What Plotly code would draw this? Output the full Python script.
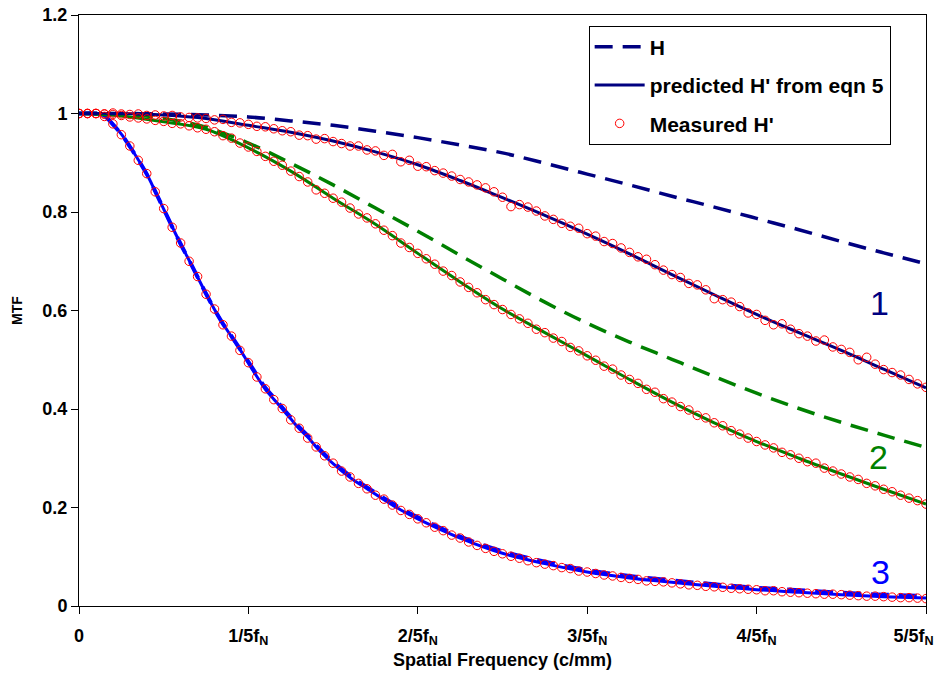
import plotly.graph_objects as go

# ---------------- data ----------------
# smooth model curves (sampled every 0.05 of f_N)
freq = [0.00, 0.05, 0.10, 0.15, 0.20, 0.25, 0.30, 0.35, 0.40, 0.45, 0.50,
        0.55, 0.60, 0.65, 0.70, 0.75, 0.80, 0.85, 0.90, 0.95, 1.00]

h1 = [1.000, 1.000, 0.999, 0.997, 0.993, 0.985, 0.976, 0.964, 0.951, 0.936, 0.920,
      0.899, 0.877, 0.855, 0.832, 0.810, 0.787, 0.764, 0.740, 0.717, 0.695]
h1_pred = [1.000, 1.000, 0.997, 0.990, 0.976, 0.962, 0.944, 0.922, 0.896, 0.864, 0.829,
           0.793, 0.755, 0.715, 0.673, 0.632, 0.592, 0.555, 0.519, 0.481, 0.443]

h2 = [1.000, 0.999, 0.990, 0.972, 0.940, 0.899, 0.855, 0.808, 0.761, 0.712, 0.664,
      0.617, 0.574, 0.536, 0.501, 0.466, 0.432, 0.401, 0.373, 0.347, 0.322]
h2_pred = [1.000, 0.995, 0.983, 0.968, 0.930, 0.883, 0.828, 0.775, 0.716, 0.658, 0.603,
           0.555, 0.508, 0.460, 0.414, 0.372, 0.334, 0.300, 0.268, 0.237, 0.207]

# curve 3 drops fast, so it is sampled more finely
freq3 = [0.00, 0.02, 0.03, 0.04, 0.05, 0.06, 0.07, 0.08, 0.09, 0.10, 0.11, 0.12,
         0.13, 0.14, 0.15, 0.16, 0.17, 0.18, 0.19, 0.20, 0.21, 0.22, 0.23, 0.24,
         0.25, 0.26, 0.27, 0.28, 0.29, 0.30, 0.32, 0.34, 0.36, 0.38, 0.40, 0.45,
         0.50, 0.55, 0.60, 0.65, 0.70, 0.75, 0.80, 0.85, 0.90, 0.95, 1.00]
h3 = [1.000, 1.000, 0.995, 0.978, 0.958, 0.933, 0.906, 0.877, 0.842, 0.806, 0.770, 0.735,
      0.702, 0.668, 0.634, 0.602, 0.573, 0.548, 0.522, 0.496, 0.469, 0.443, 0.423, 0.403,
      0.383, 0.363, 0.346, 0.326, 0.308, 0.292, 0.264, 0.241, 0.219, 0.198, 0.180, 0.141,
      0.111, 0.090, 0.073, 0.061, 0.052, 0.044, 0.037, 0.032, 0.027, 0.023, 0.020]
h3_pred = [1.000, 1.000, 0.995, 0.978, 0.958, 0.933, 0.906, 0.877, 0.842, 0.806, 0.770, 0.735,
           0.702, 0.668, 0.634, 0.602, 0.573, 0.547, 0.521, 0.493, 0.466, 0.440, 0.420, 0.400,
           0.380, 0.360, 0.343, 0.323, 0.305, 0.289, 0.261, 0.238, 0.216, 0.195, 0.177, 0.138,
           0.107, 0.086, 0.069, 0.057, 0.048, 0.040, 0.033, 0.028, 0.023, 0.019, 0.016]

# measured points (every 0.01 of f_N)
freq_meas = [0.00, 0.01, 0.02, 0.03, 0.04, 0.05, 0.06, 0.07, 0.08, 0.09,
             0.10, 0.11, 0.12, 0.13, 0.14, 0.15, 0.16, 0.17, 0.18, 0.19,
             0.20, 0.21, 0.22, 0.23, 0.24, 0.25, 0.26, 0.27, 0.28, 0.29,
             0.30, 0.31, 0.32, 0.33, 0.34, 0.35, 0.36, 0.37, 0.38, 0.39,
             0.40, 0.41, 0.42, 0.43, 0.44, 0.45, 0.46, 0.47, 0.48, 0.49,
             0.50, 0.51, 0.52, 0.53, 0.54, 0.55, 0.56, 0.57, 0.58, 0.59,
             0.60, 0.61, 0.62, 0.63, 0.64, 0.65, 0.66, 0.67, 0.68, 0.69,
             0.70, 0.71, 0.72, 0.73, 0.74, 0.75, 0.76, 0.77, 0.78, 0.79,
             0.80, 0.81, 0.82, 0.83, 0.84, 0.85, 0.86, 0.87, 0.88, 0.89,
             0.90, 0.91, 0.92, 0.93, 0.94, 0.95, 0.96, 0.97, 0.98, 0.99, 1.00]

meas1 = [1.000, 1.000, 1.000, 0.999, 1.001, 0.999, 0.998, 0.999, 0.996, 0.997,
         0.995, 0.996, 0.993, 0.992, 0.991, 0.990, 0.987, 0.988, 0.982, 0.981,
         0.978, 0.974, 0.973, 0.969, 0.965, 0.963, 0.956, 0.955, 0.948, 0.949,
         0.943, 0.939, 0.934, 0.934, 0.926, 0.924, 0.915, 0.917, 0.902, 0.905,
         0.893, 0.892, 0.884, 0.879, 0.873, 0.866, 0.861, 0.855, 0.849, 0.841,
         0.830, 0.811, 0.815, 0.810, 0.802, 0.792, 0.785, 0.777, 0.771, 0.767,
         0.756, 0.751, 0.740, 0.736, 0.727, 0.718, 0.709, 0.704, 0.693, 0.682,
         0.673, 0.667, 0.655, 0.652, 0.642, 0.624, 0.622, 0.617, 0.608, 0.595,
         0.592, 0.580, 0.571, 0.573, 0.562, 0.553, 0.548, 0.538, 0.540, 0.526,
         0.521, 0.515, 0.500, 0.505, 0.491, 0.480, 0.474, 0.469, 0.460, 0.451, 0.444]

meas2 = [1.000, 1.000, 1.000, 0.999, 0.998, 0.996, 0.993, 0.991, 0.989, 0.986,
         0.984, 0.980, 0.979, 0.975, 0.971, 0.968, 0.963, 0.955, 0.950, 0.940,
         0.932, 0.923, 0.913, 0.903, 0.895, 0.883, 0.872, 0.861, 0.845, 0.838,
         0.828, 0.820, 0.808, 0.796, 0.788, 0.776, 0.763, 0.752, 0.737, 0.728,
         0.716, 0.705, 0.694, 0.680, 0.671, 0.658, 0.647, 0.636, 0.622, 0.612,
         0.602, 0.592, 0.583, 0.574, 0.562, 0.555, 0.544, 0.537, 0.525, 0.518,
         0.508, 0.499, 0.487, 0.481, 0.469, 0.460, 0.452, 0.440, 0.434, 0.421,
         0.414, 0.405, 0.398, 0.387, 0.382, 0.372, 0.366, 0.356, 0.349, 0.341,
         0.334, 0.327, 0.321, 0.312, 0.307, 0.300, 0.293, 0.290, 0.280, 0.274,
         0.268, 0.262, 0.257, 0.249, 0.244, 0.237, 0.232, 0.225, 0.219, 0.214, 0.207]

meas3 = [1.000, 1.000, 1.000, 0.994, 0.979, 0.957, 0.934, 0.905, 0.878, 0.841,
         0.807, 0.769, 0.737, 0.700, 0.669, 0.633, 0.603, 0.571, 0.548, 0.519,
         0.494, 0.465, 0.441, 0.419, 0.401, 0.378, 0.361, 0.341, 0.323, 0.305,
         0.290, 0.274, 0.262, 0.249, 0.238, 0.225, 0.217, 0.205, 0.194, 0.186,
         0.177, 0.169, 0.160, 0.153, 0.144, 0.138, 0.130, 0.123, 0.117, 0.111,
         0.106, 0.101, 0.097, 0.092, 0.088, 0.085, 0.082, 0.078, 0.076, 0.071,
         0.069, 0.066, 0.063, 0.061, 0.058, 0.056, 0.054, 0.051, 0.050, 0.049,
         0.047, 0.045, 0.043, 0.042, 0.040, 0.039, 0.038, 0.036, 0.035, 0.034,
         0.033, 0.031, 0.031, 0.029, 0.028, 0.027, 0.026, 0.025, 0.024, 0.024,
         0.023, 0.022, 0.021, 0.020, 0.020, 0.019, 0.018, 0.017, 0.017, 0.016, 0.015]

x_tickvals = [0, 0.2, 0.4, 0.6, 0.8, 1.0]
x_ticktext = ["0", "1/5f<sub>N</sub>", "2/5f<sub>N</sub>", "3/5f<sub>N</sub>",
              "4/5f<sub>N</sub>", "5/5f<sub>N</sub>&nbsp;&nbsp;&nbsp;&nbsp;&nbsp;"]
y_tickvals = [0, 0.2, 0.4, 0.6, 0.8, 1.0, 1.2]
y_ticktext = ["0", "0.2", "0.4", "0.6", "0.8", "1", "1.2"]

curve_labels = ["1", "2", "3"]
curve_label_pos = [(0.945, 0.615), (0.944, 0.303), (0.946, 0.069)]

NAVY, GREEN, BLUE, RED = "#000080", "#008000", "#0000FF", "#FF0000"
FONT = "Arial, Liberation Sans, sans-serif"
DASH = "18px,10px"

fig = go.Figure()

# group 3 (blue)
fig.add_trace(go.Scatter(x=freq3, y=h3, mode="lines", line=dict(color=BLUE, width=4, dash=DASH),
                         showlegend=False, line_shape="spline"))
fig.add_trace(go.Scatter(x=freq3, y=h3_pred, mode="lines", line=dict(color=BLUE, width=3),
                         showlegend=False, line_shape="spline"))
# group 2 (green)
fig.add_trace(go.Scatter(x=freq, y=h2, mode="lines", line=dict(color=GREEN, width=3.5, dash=DASH),
                         showlegend=False, line_shape="spline"))
fig.add_trace(go.Scatter(x=freq, y=h2_pred, mode="lines", line=dict(color=GREEN, width=3),
                         showlegend=False, line_shape="spline"))
# group 1 (navy) - used for legend
fig.add_trace(go.Scatter(x=freq, y=h1, mode="lines", name="<b>H</b>", legendgroup="a",
                         line=dict(color=NAVY, width=3.5, dash=DASH), line_shape="spline"))
fig.add_trace(go.Scatter(x=freq, y=h1_pred, mode="lines", name="<b>predicted H' from eqn 5</b>",
                         legendgroup="b", line=dict(color=NAVY, width=3), line_shape="spline"))

marker = dict(symbol="circle-open", size=8.5, color=RED, line=dict(width=1, color=RED))
fig.add_trace(go.Scatter(x=freq_meas, y=meas1, mode="markers", name="<b>Measured H'</b>",
                         legendgroup="c", marker=marker))
fig.add_trace(go.Scatter(x=freq_meas, y=meas2, mode="markers", showlegend=False, marker=marker))
fig.add_trace(go.Scatter(x=freq_meas, y=meas3, mode="markers", showlegend=False, marker=marker))

for txt, (lx, ly), col in zip(curve_labels, curve_label_pos, [NAVY, GREEN, BLUE]):
    fig.add_annotation(x=lx, y=ly, text=txt, showarrow=False,
                       font=dict(family=FONT, size=34, color=col))

fig.update_layout(
    width=940, height=674,
    margin=dict(l=79, r=14, t=15, b=68),
    paper_bgcolor="white", plot_bgcolor="white",
    font=dict(family=FONT, color="black"),
    legend=dict(x=0.78, y=0.982, xanchor="center", yanchor="top",
                bordercolor="black", borderwidth=1, bgcolor="white",
                font=dict(family=FONT, size=21, color="black"),
                traceorder="grouped", tracegroupgap=8, itemwidth=50),
    xaxis=dict(range=[0, 1], tickvals=x_tickvals, ticktext=["<b>" + t + "</b>" for t in x_ticktext],
               tickfont=dict(size=18, family=FONT), ticks="outside", ticklen=7,
               tickcolor="black", showline=True, linecolor="black", linewidth=1,
               mirror=True, showgrid=False, zeroline=False, ticklabelstandoff=6,
               ticklabeloverflow="allow", automargin=False,
               title=dict(text="<b>Spatial Frequency (c/mm)</b>",
                          font=dict(size=18, family=FONT), standoff=6)),
    yaxis=dict(range=[0, 1.2], tickvals=y_tickvals, ticktext=["<b>" + t + "</b>" for t in y_ticktext],
               tickfont=dict(size=18, family=FONT), ticks="outside", ticklen=7,
               tickcolor="black", showline=True, linecolor="black", linewidth=1,
               mirror=True, showgrid=False, zeroline=False, automargin=False,
               title=dict(text="<b>MTF</b>", font=dict(size=14, family=FONT), standoff=16)),
)

fig.write_html("out.html", config={"displayModeBar": False},
               post_script="document.body.style.margin='0';document.body.style.overflow='hidden';")
